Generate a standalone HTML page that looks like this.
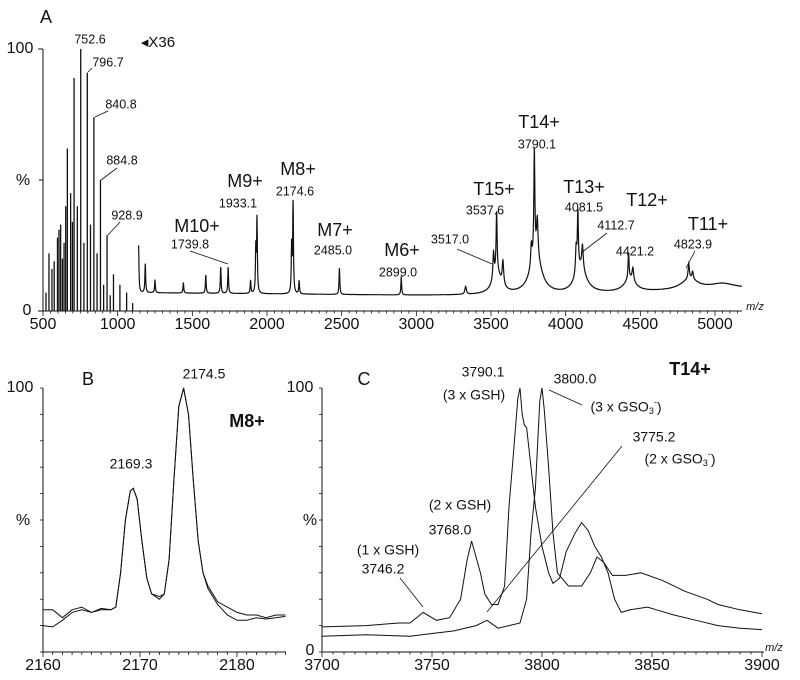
<!DOCTYPE html>
<html><head><meta charset="utf-8"><style>
html,body{margin:0;padding:0;background:#fff;}
svg{display:block;font-family:"Liberation Sans",Arial,sans-serif;}
text{fill:#111;}
</style></head><body>
<svg id="fig" width="800" height="680" viewBox="0 0 800 680"></svg>
<script>
// ---------- DATA ----------
// Panel A: low-m/z sticks (unscaled region)
const aStickMz = [520,540,560,575,597,607,618,630,641,652,663,685,697,708,730,752.6,774,796.7,818,840.8,862,884.8,906,928.9,950,972,1015,1060,1100];
const aStickPct = [7,22,16,19,28,31,33,20,26,40,62,45,34,89,40,100,26,91,33,74,22,50,10,29,6,14,10,7,3];
// Panel A: x36 region peaks (center, height %, half-width)
const aPeakMz = [1140,1185,1250,1440,1590,1690,1739.8,1890,1925,1933.1,2165,2174.6,2215,2485,2899,3330,3517,3537.6,3580,3770,3790.1,3810,4070,4081.5,4112.7,4421.2,4450,4823.9,4850];
const aPeakPct = [18,11,5,4,7,10,10,5,17,28,18,35,5,10,7,3,10,23,9,8,40,14,10,22,9,10,5,6,3];
const aPeakW = [3,3,3,3,3,3,3,3,3,3,3,3,3,3,3,6,5,4,6,5,4,6,5,4,6,4,6,5,6];
// broad humps
const aHumpMz = [3540,3800,4100,4430,4830,5050];
const aHumpPct = [8,15,10,5,4,2];
const aHumpW = [35,45,45,45,70,100];
const aBaseMz = [1140,3000,4000,5180];
const aBasePct = [7,6,6,8.5];
const aTicks = [500,1000,1500,2000,2500,3000,3500,4000,4500,5000];
// Panel B traces [m/z, %]
const bTrace1 = [[2160,16],[2161,16],[2162,13],[2163,16],[2164,17],[2165,15],[2166,16],[2167,16],[2167.5,17],[2168,30],[2168.5,50],[2169,61],[2169.3,62],[2169.7,58],[2170.2,42],[2170.7,28],[2171.2,22],[2172,21],[2172.5,22],[2173,35],[2173.5,65],[2174,93],[2174.5,100],[2175,90],[2175.5,65],[2176,42],[2176.5,30],[2177,25],[2178,19],[2179,17],[2180,15],[2181,14],[2182,14],[2183,13],[2184,14],[2185,14]];
const bTrace2 = [[2160,10],[2161,9.5],[2162,12],[2163,15],[2164,16],[2165,15],[2166,16.5],[2167,16],[2167.5,17],[2168,30],[2168.5,50],[2169,61],[2169.3,62],[2169.7,58],[2170.2,42],[2170.7,28],[2171.2,22],[2172,20],[2172.5,22],[2173,35],[2173.5,65],[2174,93],[2174.5,100],[2175,90],[2175.5,65],[2176,42],[2176.5,30],[2177,24],[2178,18],[2179,14],[2180,12],[2181,12],[2182,13],[2183,12.5],[2184,13],[2185,13.5]];
const bTicks = [2160,2170,2180];
// Panel C traces
const cGSH = [[3700,9.5],[3720,10],[3735,11],[3740,11],[3746,15],[3752,12],[3758,13],[3763,20],[3766,35],[3768,42],[3770,36],[3772,30],[3774,22],[3777,18],[3780,18],[3783,25],[3785,55],[3787,75],[3789,96],[3790,100],[3791,90],[3792,86],[3793,85],[3795,70],[3797,55],[3800,40],[3803,30],[3805,26],[3808,28],[3811,38],[3815,45],[3818,49],[3821,46],[3824,40],[3827,36],[3830,30],[3833,20],[3836,15],[3840,16],[3848,17],[3852,16],[3860,14],[3870,12],[3880,10],[3890,9],[3900,8.5]];
const cGSO3 = [[3700,6],[3720,6.5],[3740,6],[3750,7],[3760,8],[3770,10],[3775,12],[3780,9],[3785,10],[3790,11],[3793,20],[3795,45],[3797,62],[3799,95],[3800,100],[3801,92],[3803,70],[3805,45],[3807,30],[3812,25],[3818,25],[3822,30],[3825,36],[3828,34],[3832,29],[3838,29],[3845,30],[3855,27],[3865,23],[3875,20],[3880,18],[3890,16],[3900,14.5]];
const cTicks = [3700,3750,3800,3850,3900];

// ---------- AXES ----------
const NS = "http://www.w3.org/2000/svg";
const svg = document.getElementById('fig');
function el(tag, attrs, parent){const e=document.createElementNS(NS,tag);for(const k in attrs)e.setAttribute(k,attrs[k]);(parent||svg).appendChild(e);return e;}
function txt(s,x,y,size,name,opt){const t=el('text',Object.assign({x:x,y:y,'font-size':size,'text-anchor':'middle','dominant-baseline':'middle'},opt||{}));t.textContent=s;return t;}
function line(x1,y1,x2,y2,name,w){const l=el('line',{x1:x1,y1:y1,x2:x2,y2:y2,stroke:'#111','stroke-width':w||1});return l;}

const axA = {x:v=>43+(v-500)*(672/4500), y:p=>311-p*2.62};
const axB = {x:v=>43+(v-2160)*9.7, y:p=>652-p*2.64};
const axC = {x:v=>322+(v-3700)*2.2, y:p=>652-p*2.64};

// ---- Panel A ----
const gA = el('g',{});  
line(43,49,43,311,'panel-a-y-axis');
line(43,311,742,311,'panel-a-x-axis');
for(let v=500;v<=5150;v+=50){const mj=v%500===0;line(axA.x(v),311,axA.x(v),311+(mj?5:2.5),mj?'x-tick-major':'x-tick-minor',0.8);}
aTicks.forEach(v=>txt(String(v),axA.x(v),325,16,'x-tick-label'));
line(38,49,43,49,'y-tick'); line(38,311,43,311,'y-tick'); line(39,180,43,180,'y-tick');
txt('100',20,49,16,'y-tick-label-100'); txt('%',23,181,16,'y-axis-title'); txt('0',27,311,16,'y-tick-label-0');
txt('A',46,18,18,'panel-a-label');
txt('m/z',755,307,11,'x-axis-title',{'font-style':'italic'});
aStickMz.forEach((m,i)=>{const s=line(axA.x(m),311,axA.x(m),axA.y(aStickPct[i]),'stick-peak',1.3);});
// scaled trace
function baseA(m){for(let i=0;i<aBaseMz.length-1;i++){if(m<=aBaseMz[i+1]){const t=(m-aBaseMz[i])/(aBaseMz[i+1]-aBaseMz[i]);return aBasePct[i]+t*(aBasePct[i+1]-aBasePct[i]);}}return aBasePct[aBasePct.length-1];}
let dA='';
for(let m=1140;m<=5180;m+=1){let p=baseA(m);
 aPeakMz.forEach((c,i)=>{const d=(m-c)/aPeakW[i];p+=aPeakPct[i]/(1+d*d);});
 aHumpMz.forEach((c,i)=>{const d=(m-c)/aHumpW[i];p+=aHumpPct[i]/(1+d*d);});
 dA+=(dA?'L':'M')+axA.x(m).toFixed(1)+' '+axA.y(p).toFixed(1);}
const pA=el('path',{d:dA,fill:'none',stroke:'#111','stroke-width':1.2});

txt('◂X36',158,43,15,'x36-scale-note');
// peak labels A
const sm=12.5, big=18;
txt('752.6',90,40,sm,'peak-label-752');
txt('796.7',108,63,sm,'peak-label-796'); line(88,72,92,68,'leader',0.8);
txt('840.8',121,105,sm,'peak-label-840'); line(95,117,108,111,'leader',0.8);
txt('884.8',122,161,sm,'peak-label-884'); line(101,180,117,168,'leader',0.8);
txt('928.9',127,216,sm,'peak-label-928'); line(108,235,120,222,'leader',0.8);
txt('M10+',197,227,big,'label-m10');txt('1739.8',190,245,sm,'peak-label-1739'); line(190,251,228,264,'leader',0.8);
txt('M9+',245,182,big,'label-m9');txt('1933.1',238,204,sm,'peak-label-1933');
txt('M8+',298,170,big,'label-m8');txt('2174.6',295,192,sm,'peak-label-2174');
txt('M7+',335,231,big,'label-m7');txt('2485.0',333,251,sm,'peak-label-2485');
txt('M6+',402,251,big,'label-m6');txt('2899.0',398,273,sm,'peak-label-2899');
txt('T15+',494,190,big,'label-t15');txt('3537.6',485,211,sm,'peak-label-3537');
txt('3517.0',450,240,sm,'peak-label-3517');line(457,249,492,264,'leader',0.8);
txt('T14+',539,123,big,'label-t14');txt('3790.1',537,145,sm,'peak-label-3790');
txt('T13+',584,188,big,'label-t13');txt('4081.5',584,208,sm,'peak-label-4081');
txt('4112.7',616,226,sm,'peak-label-4112');line(607,233,581,253,'leader',0.8);
txt('T12+',647,201,big,'label-t12');txt('4421.2',635,252,sm,'peak-label-4421');
txt('T11+',708,225,big,'label-t11');txt('4823.9',693,245,sm,'peak-label-4823');line(695,251,686,268,'leader',0.8);

// ---- Panel B ----
line(43,388,43,652,'panel-b-y-axis'); line(43,652,286,652,'panel-b-x-axis');
for(let v=2160;v<=2185;v+=1){const mj=v%10===0;line(axB.x(v),652,axB.x(v),652+(mj?5:3),'x-tick',0.8);}
for(let p=0;p<=100;p+=10)line(40,axB.y(p),43,axB.y(p),'y-tick',0.8);
bTicks.forEach(v=>txt(String(v),axB.x(v),666,16,'b-x-tick-label'));
txt('100',20,388,16,'b-y-tick-100');txt('%',23,521,16,'b-y-axis-title');
txt('B',88,380,18,'panel-b-label');
function trace(arr,ax,name){const d=arr.map((q,i)=>(i?'L':'M')+ax.x(q[0]).toFixed(1)+' '+ax.y(q[1]).toFixed(1)).join('');const p=el('path',{d:d,fill:'none',stroke:'#111','stroke-width':1});}
trace(bTrace1,axB,'b-trace-1');trace(bTrace2,axB,'b-trace-2');
txt('2174.5',204,375,14,'b-peak-label-2174');txt('2169.3',131,465,14,'b-peak-label-2169');
txt('M8+',247,422,18,'b-ion-label',{'font-weight':'bold'});

// ---- Panel C ----
line(322,388,322,652,'panel-c-y-axis'); line(322,652,764,652,'panel-c-x-axis');
for(let v=3700;v<=3900;v+=5){const mj=v%50===0;line(axC.x(v),652,axC.x(v),652+(mj?5:2.5),'x-tick',0.8);}
for(let p=0;p<=100;p+=10)line(319,axC.y(p),322,axC.y(p),'y-tick',0.8);
cTicks.forEach(v=>txt(String(v),axC.x(v),666,16,'c-x-tick-label'));
txt('100',300,388,16,'c-y-tick-100');txt('%',310,521,16,'c-y-axis-title');txt('0',310,651,16,'c-y-tick-0');
txt('C',364,380,18,'panel-c-label');
txt('m/z',774,648,11,'c-x-axis-title',{'font-style':'italic'});
trace(cGSH,axC,'c-trace-gsh');trace(cGSO3,axC,'c-trace-gso3');
txt('T14+',690,370,18,'c-ion-label',{'font-weight':'bold'});
txt('3790.1',483,373,14,'c-label-3790');txt('(3 x GSH)',474,396,14,'c-label-3gsh');
txt('3800.0',575,380,14,'c-label-3800');
function sub(x,y,pre,name){const t=el('text',{x:x,y:y,'font-size':14,'text-anchor':'middle','dominant-baseline':'middle'});t.innerHTML=pre+'GSO<tspan font-size="9" dy="4">3</tspan><tspan font-size="9" dy="-9">-</tspan><tspan dy="5">)</tspan>';}
sub(626,408,'(3 x ','c-label-3gso3');line(549,390,582,405,'leader',0.8);
txt('3775.2',654,438,14,'c-label-3775');sub(680,460,'(2 x ','c-label-2gso3');line(487,612,622,446,'leader',0.8);
txt('(2 x GSH)',460,506,14,'c-label-2gsh');txt('3768.0',450,531,14,'c-label-3768');
txt('(1 x GSH)',388,551,14,'c-label-1gsh');txt('3746.2',383,570,14,'c-label-3746');line(400,578,423,607,'leader',0.8);
</script>
</body></html>
